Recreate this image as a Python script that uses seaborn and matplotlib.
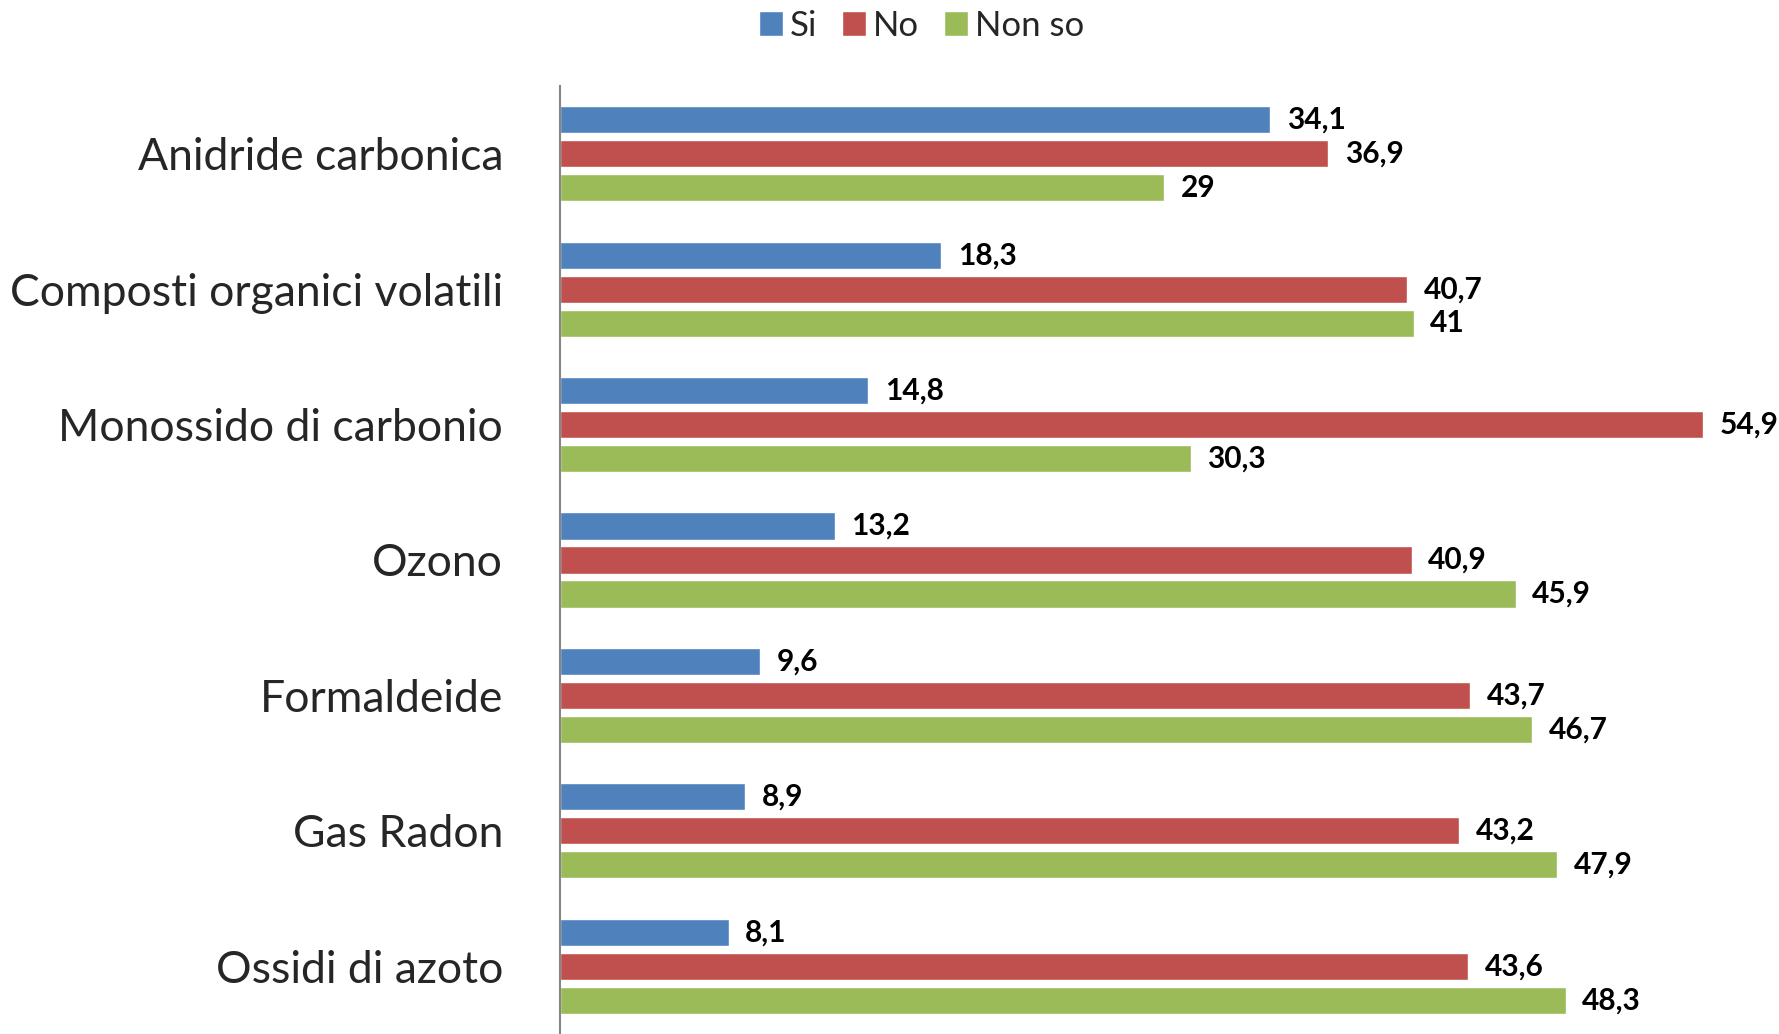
import pandas as pd
import matplotlib.pyplot as plt
import seaborn as sns

categories = ["Anidride carbonica", "Composti organici volatili", "Monossido di carbonio",
              "Ozono", "Formaldeide", "Gas Radon", "Ossidi di azoto"]
si = [34.1, 18.3, 14.8, 13.2, 9.6, 8.9, 8.1]
no = [36.9, 40.7, 54.9, 40.9, 43.7, 43.2, 43.6]
non_so = [29, 41, 30.3, 45.9, 46.7, 47.9, 48.3]
series = ["Si", "No", "Non so"]
colors = ["#4F81BD", "#C0504D", "#9BBB59"]

rows = []
for name, vals in zip(series, [si, no, non_so]):
    for cat, v in zip(categories, vals):
        rows.append({"categoria": cat, "risposta": name, "valore": v})
df = pd.DataFrame(rows)

sns.set_style("white")
plt.rcParams["font.family"] = ["Lato", "DejaVu Sans"]

fig = plt.figure(figsize=(17.79, 10.34), dpi=100)
ax = fig.add_axes([560 / 1779, 0.0, 1 - 560 / 1779, 1 - 86 / 1034])

sns.barplot(data=df, y="categoria", x="valore", hue="risposta", order=categories,
            hue_order=series, palette=colors, orient="h", width=0.753, gap=0.2,
            saturation=1, ax=ax)

for cont in ax.containers:
    labels = [f"{b.get_width():g}".replace(".", ",") for b in cont]
    ax.bar_label(cont, labels=labels, padding=12, fontsize=21.5, fontweight="bold",
                 color="black", clip_on=False)

ax.set_xlim(0, 58.55)
ax.set_ylim(len(categories) - 0.5, -0.5)
ax.set_xlabel("")
ax.set_ylabel("")
ax.set_xticks([])
ax.tick_params(axis="y", length=0, pad=41, labelsize=32)
for s in ["top", "right", "bottom"]:
    ax.spines[s].set_visible(False)
ax.spines["left"].set_color("#868686")
ax.spines["left"].set_linewidth(1.5)

# legend centred on the figure, above the plot area
handles, labels = ax.get_legend_handles_labels()
ax.get_legend().remove()
fig.legend(handles, labels, loc="upper center", bbox_to_anchor=(0.518, 1.004),
           ncol=3, frameon=False, fontsize=25, handlelength=0.7, handleheight=0.7,
           handletextpad=0.2, columnspacing=0.7, borderaxespad=0)

fig.savefig("out.png", dpi=100)
